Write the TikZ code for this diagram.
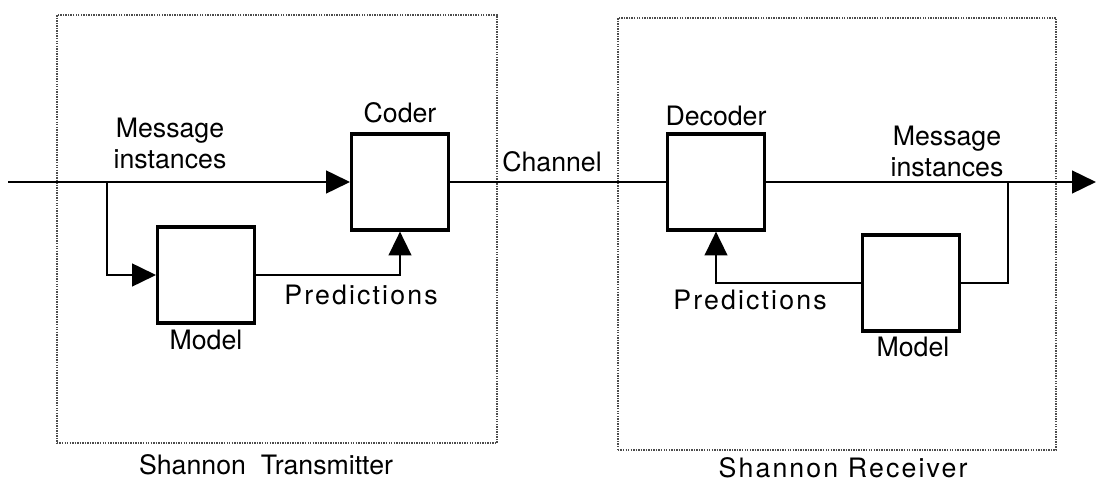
\documentclass[tikz,border=0pt]{standalone}
\usepackage{fontspec}
\setmainfont{TeX Gyre Heros}
\newfontfamily\spaced[LetterSpace=8]{TeX Gyre Heros}
\usetikzlibrary{arrows.meta}
\tikzset{
  block/.style={draw, rectangle, line width=2.2pt, minimum width=2.42cm, minimum height=2.4cm, inner sep=0pt},
  frame/.style={draw=black!70, rectangle, dash pattern=on 1pt off 0.8pt, line width=2pt, inner sep=0pt},
  flow/.style={line width=2pt},
  arr/.style={flow, -{Triangle[length=17pt, width=16pt]}},
  lbl/.style={align=center, font=\fontsize{19}{22}\selectfont},
}
\begin{document}
\begin{tikzpicture}[x=0.025cm, y=-0.025cm]
    \useasboundingbox (0,0) rectangle (1097,484);
    % Frames
    \node[frame, minimum width=11cm, minimum height=10.7cm] (tx) at (277, 229) {};
    \node[frame, minimum width=10.95cm, minimum height=10.8cm] (rx) at (837, 234) {};
    \node[lbl] (txname) at (266, 465) {Shannon\ \ Transmitter};
    \node[lbl] (rxname) at (843, 468) {\spaced Shannon Receiver};

    % Nodes
    \node[block] (coder) at (400, 182) {};
    \node[block] (modelT) at (206, 275) {};
    \node[block] (decoder) at (716, 182) {};
    \node[block] (modelR) at (911, 283) {};
    \coordinate (in) at (8, 182);
    \coordinate (split) at (107, 182);
    \coordinate (tap) at (1008, 182);
    \coordinate (out) at (1096, 182);

    % Labels
    \node[lbl] (coderlbl) at (400, 113) {Coder};
    \node[lbl] (decoderlbl) at (716, 116) {Decoder};
    \node[lbl] (modelTlbl) at (206, 340) {Model};
    \node[lbl] (modelRlbl) at (913, 347) {Model};
    \node[lbl] (msgT) at (170, 143) {Message\\instances};
    \node[lbl] (msgR) at (947, 151) {Message\\instances};
    \node[lbl] (chan) at (552, 162) {Channel};
    \node[lbl] (predT) at (361, 295) {\spaced Predictions};
    \node[lbl] (predR) at (750, 300) {\spaced Predictions};

    % Edges
    \draw[arr] (in) -- (coder.west);
    \draw[arr] (split) |- (modelT.west);
    \draw[arr] (modelT.east) -| (coder.south);
    \draw[flow] (coder.east) -- (decoder.west);
    \draw[arr] (decoder.east) -- (out);
    \draw[flow] (tap) |- (modelR.east);
    \draw[arr] (modelR.west) -| (decoder.south);
\end{tikzpicture}
\end{document}
